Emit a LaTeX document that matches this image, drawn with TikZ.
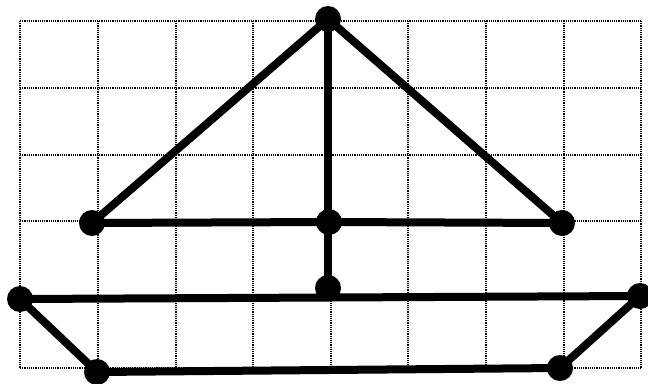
\documentclass[tikz,border=0pt]{standalone}
\usepackage{tikz}
\usetikzlibrary{positioning}
\tikzset{
  gridln/.style = {black, line width=1.1pt, dash pattern=on 1.2pt off 1pt},
  beam/.style   = {black, line width=8pt},
  dot/.style    = {circle, fill=black, inner sep=0pt, minimum size=26pt},
}
\begin{document}
\begin{tikzpicture}[x=1pt, y=-1pt]
\useasboundingbox (0,0) rectangle (648,383);
% grid
\foreach \gx in {20,98,176,253,331,408,486,564,641} {\draw[gridln] (\gx,21) -- (\gx,368);}
\foreach \gy in {21,88,155,221,298,368} {\draw[gridln] (20,\gy) -- (641,\gy);}
% sail and mast
\node[dot] (apex) at (328,19)  {};
\node[dot] (sl)   at (92,223)  {};
\node[dot] (sm)   at (329,222) {};
\node[dot] (sr)   at (562,223) {};
\node[dot] (mb)   at (328,288) {};
\draw[beam] (apex.center) -- (sl.center);
\draw[beam] (apex.center) -- (sr.center);
\draw[beam] (apex.center) -- (mb.center);
\draw[beam] (sl.center) -- (sm.center) -- (sr.center);
% hull
\node[dot] (hl) at (20,299)  {};
\node[dot] (hr) at (640,296) {};
\node[dot] (bl) at (97,372)  {};
\node[dot] (br) at (560,368) {};
\draw[beam] (hl.center) -- (hr.center);
\draw[beam] (hl.center) -- (bl.center);
\draw[beam] (bl.center) -- (br.center);
\draw[beam] (br.center) -- (hr.center);
\end{tikzpicture}
\end{document}
